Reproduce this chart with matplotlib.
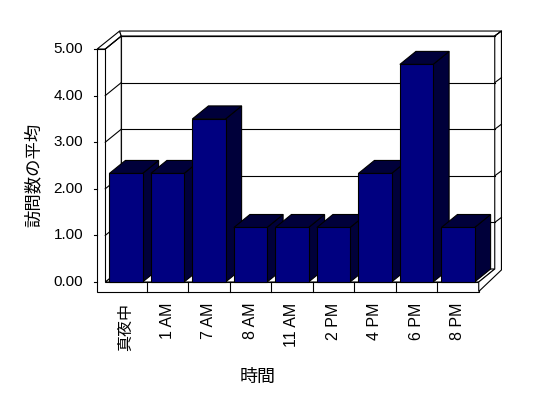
import matplotlib.pyplot as plt
from matplotlib.patches import Polygon

plt.rcParams['font.family'] = ['Liberation Sans', 'Noto Sans CJK JP', 'DejaVu Sans']

categories = ['真夜中', '1 AM', '7 AM', '8 AM', '11 AM', '2 PM', '4 PM', '6 PM', '8 PM']
values = [2.33, 2.33, 3.5, 1.17, 1.17, 1.17, 2.33, 4.67, 1.17]
y_ticks = [0, 1, 2, 3, 4, 5]
y_labels = ['0.00', '1.00', '2.00', '3.00', '4.00', '5.00']
x_title = '時間'
y_title = '訪問数の平均'

navy = '#000080'
dark = '#00003a'

fig = plt.figure(figsize=(5.48, 3.98), dpi=100)
ax = fig.add_axes([0, 0, 1, 1])
ax.set_xlim(-3.036, 10.169)
ax.set_ylim(-2.489, 6.052)
ax.axis('off')

# 3D geometry (data units)
n = len(categories)
xL, xR = -0.5, n - 0.5
ymax = y_ticks[-1]
DX, DY = 0.386, 0.279       # depth
TW, TF = 0.195, 0.204       # wall / floor thickness
BT, BR = 0.107, 0.161       # back wall thickness (top / right)
lw = 0.8


def poly(pts, fc='white', z=1):
    ax.add_patch(Polygon(pts, closed=True, facecolor=fc, edgecolor='black',
                         linewidth=lw, zorder=z, joinstyle='miter'))


# back wall face
poly([(xL + DX, DY), (xR + DX, DY), (xR + DX, ymax + DY), (xL + DX, ymax + DY)])
# floor top
poly([(xL, 0), (xR, 0), (xR + DX, DY), (xL + DX, DY)])
# left wall inner face
poly([(xL, 0), (xL + DX, DY), (xL + DX, ymax + DY), (xL, ymax)])
# left wall + floor front face
poly([(xL - TW, ymax), (xL, ymax), (xL, 0), (xR, 0), (xR, -TF), (xL - TW, -TF)])
# left wall top
poly([(xL - TW, ymax), (xL, ymax), (xL + DX, ymax + DY), (xL + DX - 0.04, ymax + DY + BT)])
# back wall top
poly([(xL + DX - 0.04, ymax + DY + BT), (xR + DX + BR, ymax + DY + BT),
      (xR + DX, ymax + DY), (xL + DX, ymax + DY)])
# right side
poly([(xR, 0), (xR, -TF), (xR + DX + BR, DY - 0.02), (xR + DX + BR, ymax + DY + BT),
      (xR + DX, ymax + DY), (xR + DX, DY)])

# gridlines and ticks
for v in y_ticks:
    if v > 0:
        ax.plot([xL + DX, xR + DX], [v + DY, v + DY], color='black', lw=lw, zorder=2)
        ax.plot([xL, xL + DX], [v, v + DY], color='black', lw=lw, zorder=2)
        ax.plot([xR + DX, xR + DX + BR], [v + DY, v + DY + BT], color='black', lw=lw, zorder=2)
    ax.plot([xL - TW - 0.085, xL - TW], [v, v], color='black', lw=lw, zorder=2)

# separators on floor front
for i in range(n - 1):
    ax.plot([i + 0.5, i + 0.5], [0, -TF], color='black', lw=lw, zorder=2)

# bars
w = 0.4
for i, v in enumerate(values):
    l, r = i - w, i + w
    poly([(r, 0), (r + DX, DY), (r + DX, v + DY), (r, v)], fc=dark, z=3)
    poly([(l, v), (r, v), (r + DX, v + DY), (l + DX, v + DY)], fc=dark, z=3)
    poly([(l, 0), (r, 0), (r, v), (l, v)], fc=navy, z=3)

# labels
for v, s in zip(y_ticks, y_labels):
    ax.text(-1.03, v, s, ha='right', va='center', fontsize=11)
for i, s in enumerate(categories):
    ax.text(i, -0.44, s, ha='center', va='top', rotation=90, fontsize=11.5)

ax.text(-2.24, 2.3, y_title, ha='center', va='center', rotation=90, fontsize=12.5)
ax.text(3.18, -2.04, x_title, ha='center', va='center', fontsize=13)

fig.savefig('out.png', dpi=100)
